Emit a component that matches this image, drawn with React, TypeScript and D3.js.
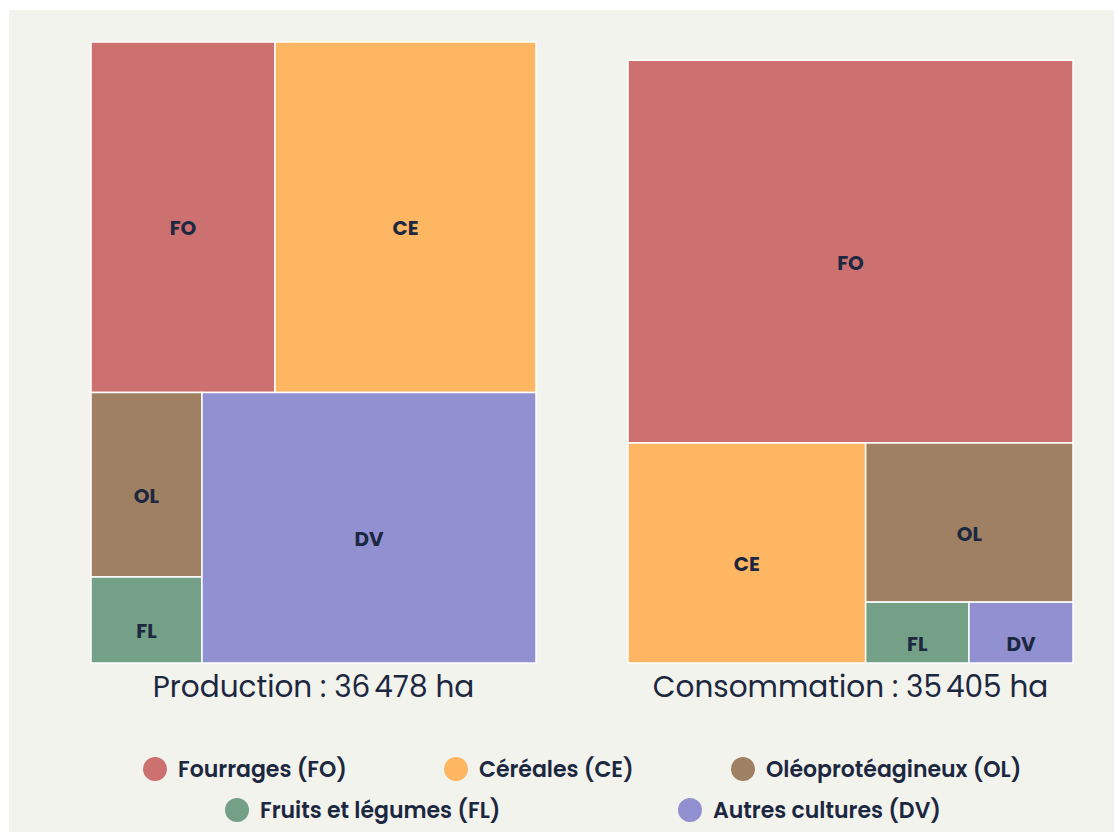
import React from "react";
import * as d3 from "d3";

const codes = ["FO", "CE", "OL", "FL", "DV"];
const names = ["Fourrages (FO)", "Céréales (CE)", "Oléoprotéagineux (OL)", "Fruits et légumes (FL)", "Autres cultures (DV)"];
const colors = ["#cc7170", "#ffb662", "#a08063", "#74a087", "#9190d1"];
const productionValues = [8513, 12075, 2703, 1260, 11927];
const consumptionValues = [22481, 6902, 4356, 830, 836];
const panelTitles = ["Production : 36\u202f478 ha", "Consommation : 35\u202f405 ha"];

const W = 1115;
const H = 832;
const FONT = "Poppins, Inter, 'Open Sans', sans-serif";
const TEXT = "#1c2740";

function layout(values: number[], width: number, height: number) {
  const root = d3
    .hierarchy<any>({ children: values.map((v, i) => ({ code: codes[i], value: v, i })) })
    .sum((d: any) => d.value || 0);
  d3.treemap<any>().tile(d3.treemapSquarify).size([width, height]).paddingInner(0)(root);
  return root.leaves() as any[];
}

export default function App() {
  const panelW = 445;
  const bottom = 663;
  const refTotal = d3.sum(productionValues);
  const areaPerUnit = (panelW * 621) / refTotal;
  const panels = [
    { x: 91, values: productionValues, title: panelTitles[0] },
    { x: 628, values: consumptionValues, title: panelTitles[1] },
  ].map((p) => {
    const total = d3.sum(p.values);
    const h = (total * areaPerUnit) / panelW;
    return { ...p, h, y: bottom - h, leaves: layout(p.values, panelW, h) };
  });

  const legendRow1 = [
    { i: 0, cx: 155, y: 769 },
    { i: 1, cx: 456, y: 769 },
    { i: 2, cx: 743, y: 769 },
  ];
  const legendRow2 = [
    { i: 3, cx: 237, y: 810 },
    { i: 4, cx: 690, y: 810 },
  ];

  return (
    <svg
      width={W}
      height={H}
      style={{ position: "absolute", left: 0, top: 0, display: "block" }}
      fontFamily={FONT}
    >
      <rect x={0} y={0} width={W} height={H} fill="#ffffff" />
      <rect x={9} y={10} width={1105} height={H - 10} fill="#f3f3ee" />
      {panels.map((p, pi) => (
        <g key={pi} transform={`translate(${p.x},${p.y})`}>
          {p.leaves.map((l: any) => (
            <g key={l.data.code}>
              <rect
                x={l.x0}
                y={l.y0}
                width={l.x1 - l.x0}
                height={l.y1 - l.y0}
                fill={colors[l.data.i]}
                stroke="#ffffff"
                strokeWidth={1.5}
              />
              <text
                x={(l.x0 + l.x1) / 2}
                y={(l.y0 + l.y1) / 2 + 11}
                textAnchor="middle"
                dominantBaseline="central"
                fontSize={20}
                fontWeight={700}
                fill={TEXT}
              >
                {l.data.code}
              </text>
            </g>
          ))}
          <text
            x={panelW / 2}
            y={p.h + 34}
            textAnchor="middle"
            fontSize={29.5}
            fontWeight={400}
            fill={TEXT}
          >
            {p.title}
          </text>
        </g>
      ))}
      {[...legendRow1, ...legendRow2].map((d) => (
        <g key={d.i}>
          <circle cx={d.cx} cy={d.y} r={12} fill={colors[d.i]} />
          <text
            x={d.cx + 23}
            y={d.y}
            dominantBaseline="central"
            fontSize={22}
            fontWeight={600}
            fill={TEXT}
          >
            {names[d.i]}
          </text>
        </g>
      ))}
    </svg>
  );
}
